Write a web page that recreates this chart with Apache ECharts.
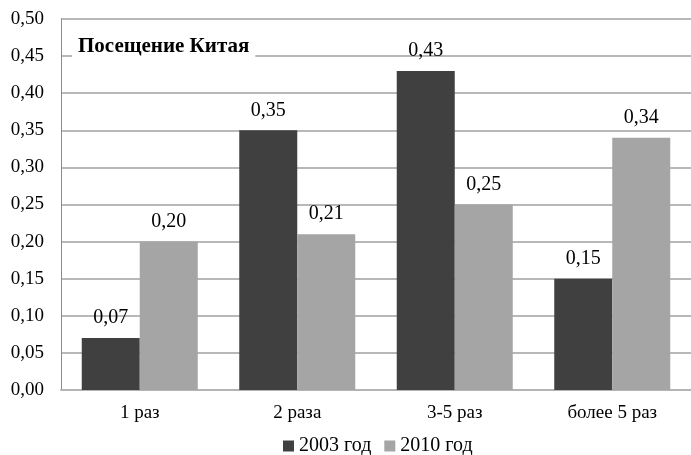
<!DOCTYPE html>
<html>
<head>
<meta charset="utf-8">
<script src="https://cdn.jsdelivr.net/npm/echarts@6/dist/echarts.min.js"></script>
<style>
  html, body { margin: 0; padding: 0; background: #fff; }
  #chart { width: 691px; height: 455px; }
</style>
</head>
<body>
<div id="chart"></div>
<script>
// Visit frequency categories and shares per survey year
const categories = ['1 раз', '2 раза', '3-5 раз', 'более 5 раз'];
const values2003 = [0.07, 0.35, 0.43, 0.15];
const values2010 = [0.20, 0.21, 0.25, 0.34];
const seriesNames = ['2003 год', '2010 год'];
const chartTitle = 'Посещение Китая';

const FONT = '"Liberation Serif", "Times New Roman", serif';
const fmt = v => v.toFixed(2).replace('.', ',');

const chart = echarts.init(document.getElementById('chart'), null, { renderer: 'canvas' });

const labelStyle = {
  show: true,
  position: 'top',
  distance: 10,
  fontFamily: FONT,
  fontSize: 20,
  color: '#000',
  formatter: p => fmt(p.value)
};

chart.setOption({
  animation: false,
  backgroundColor: '#fff',
  textStyle: { fontFamily: FONT },
  title: {
    text: chartTitle,
    left: 72,
    top: 34,
    padding: [2, 6, 2, 6],
    backgroundColor: '#fff',
    textStyle: { fontFamily: FONT, fontSize: 21, fontWeight: 'bold', color: '#000' }
  },
  legend: {
    data: seriesNames,
    left: 283,
    top: 436,
    padding: 0,
    icon: 'rect',
    itemWidth: 11,
    itemHeight: 11,
    itemGap: 13,
    textStyle: { fontFamily: FONT, fontSize: 20, color: '#000' }
  },
  grid: { left: 61, top: 19, width: 637, height: 371, containLabel: false },
  xAxis: {
    type: 'category',
    data: categories,
    axisLine: { lineStyle: { color: '#b4b4b4', width: 2 } },
    axisTick: { show: false },
    axisLabel: { fontFamily: FONT, fontSize: 19, color: '#000', margin: 14 }
  },
  yAxis: {
    type: 'value',
    min: 0,
    max: 0.5,
    interval: 0.05,
    axisLine: { show: true, lineStyle: { color: '#8c8c8c', width: 1 } },
    axisTick: { show: false },
    splitLine: { lineStyle: { color: '#a0a0a0', width: 1.5 } },
    axisLabel: { fontFamily: FONT, fontSize: 19, color: '#000', margin: 17, formatter: v => fmt(v) }
  },
  series: [
    {
      name: seriesNames[0],
      type: 'bar',
      data: values2003,
      barWidth: 58,
      barGap: '0%',
      itemStyle: { color: '#404040' },
      label: labelStyle
    },
    {
      name: seriesNames[1],
      type: 'bar',
      data: values2010,
      barWidth: 58,
      barGap: '0%',
      itemStyle: { color: '#a5a5a5' },
      label: labelStyle
    }
  ]
});
</script>
</body>
</html>
